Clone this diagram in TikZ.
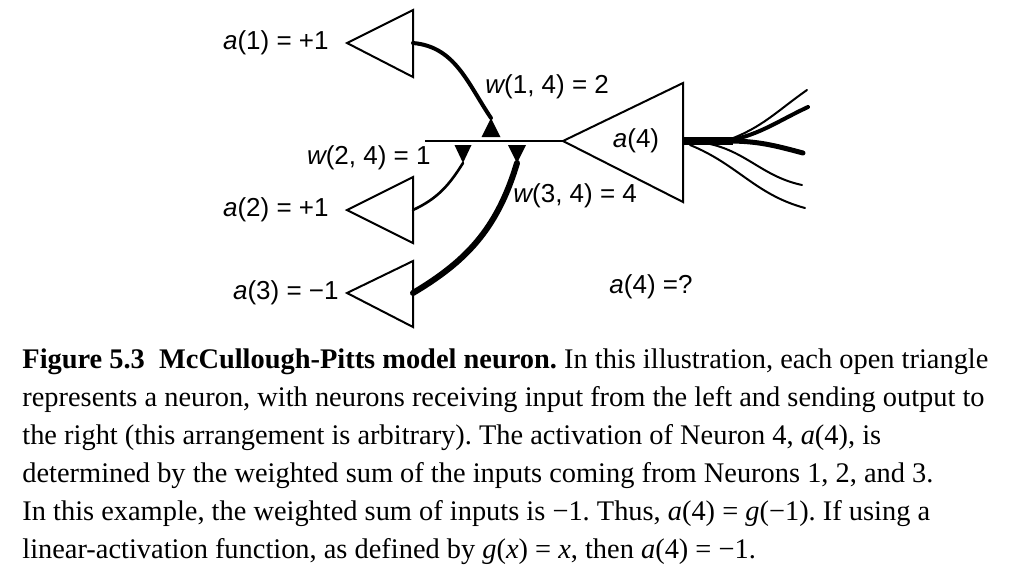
\documentclass[tikz,border=0pt]{standalone}
\usepackage{fontspec}
\setmainfont{Liberation Serif}
\newfontfamily\labelfont{Liberation Sans}
\usetikzlibrary{positioning}
\frenchspacing

\begin{document}
\begin{tikzpicture}[x=0.5pt, y=0.5pt,
        neuron/.style={draw, line width=1pt, line join=miter},
        axon/.style={line width=#1, line cap=round},
        axon/.default=1pt,
        synapse/.style={fill=black},
        lbl/.style={font=\labelfont\fontsize{13}{15}\selectfont, inner sep=0pt}]
        \useasboundingbox (0,0) rectangle (1009,-575);

        % Puntos de salida de las neuronas de entrada
        \coordinate (out1) at (413,-43);
        \coordinate (out2) at (413,-210);
        \coordinate (out3) at (413,-293);

        % Cuerpos de las neuronas de entrada (triangulos abiertos)
        \draw[neuron] (out1) ++(-66,0) coordinate (tip1) -- ++(66,33) -- ++(0,-67) -- cycle;
        \draw[neuron] (out2) ++(-66,0) coordinate (tip2) -- ++(66,33) -- ++(0,-66) -- cycle;
        \draw[neuron] (out3) ++(-66,0) coordinate (tip3) -- ++(66,32) -- ++(0,-66) -- cycle;

        % Neurona 4
        \coordinate (soma) at (563,-141);
        \coordinate (axon4) at (683,-141);
        \draw[neuron] (soma) -- (683,-83) -- (683,-202) -- cycle;
        \node at (636,-141) (act4) [lbl] {{\itshape a}(4)};

        % Dendrita
        \coordinate (dend) at (425,-141);
        \draw[line width=1pt] (dend) -- (soma);

        % Sinapsis (pequenos triangulos rellenos)
        \coordinate (syn1) at (491,-118);
        \coordinate (syn2) at (463,-163);
        \coordinate (syn3) at (517,-163);
        \fill[synapse] (syn1) -- ++(-9.5,-19) -- ++(19,0) -- cycle;
        \fill[synapse] (syn2) -- ++(-8.5,18) -- ++(17,0) -- cycle;
        \fill[synapse] (syn3) -- ++(-9,18) -- ++(18,0) -- cycle;

        % Axones hacia las sinapsis
        \draw[axon=2pt] (out1) to[out=-5,in=124] (syn1);
        \draw[axon=1.3pt] (out2) to[out=25,in=238] (syn2);
        \draw[axon=3pt] (out3) .. controls (465,-262) and (497,-230) .. (syn3);

        % Axon de salida y sus ramas
        \coordinate (b1) at (807,-90);
        \coordinate (b2) at (808,-107);
        \coordinate (b3) at (803,-153);
        \coordinate (b4) at (802,-185);
        \coordinate (b5) at (805,-208);
        \draw[line width=4pt] (axon4) -- (733,-141);
        \draw[axon=1pt] (728,-140) to[out=20,in=215] (b1);
        \draw[axon=2pt] (728,-141) to[out=12,in=205] (b2);
        \draw[axon=2.5pt] (728,-141) to[out=0,in=165] (b3);
        \draw[axon=1pt] (705,-143) to[out=-10,in=168] (b4);
        \draw[axon=1pt] (690,-145) to[out=-22,in=165] (b5);

        % Etiquetas de activacion
        \node[lbl, left=9pt of tip1] (a1) {{\itshape a}(1) = +1};
        \node[lbl, left=9pt of tip2] (a2) {{\itshape a}(2) = +1};
        \node[lbl, left=4pt of tip3] (a3) {{\itshape a}(3) = −1};

        % Etiquetas de pesos
        \node[lbl, anchor=west] at (485,-87) (w1) {{\itshape w}(1, 4) = 2};
        \node[lbl, anchor=east] at (431,-158) (w2) {{\itshape w}(2, 4) = 1};
        \node[lbl, anchor=west] at (513,-196) (w3) {{\itshape w}(3, 4) = 4};

        % Pregunta
        \node[lbl] at (651,-287) (q) {{\itshape a}(4) =?};

        % Pie de figura
        \node[anchor=north west, inner sep=0pt, align=left,
              font=\fontsize{14.2}{19}\selectfont] at (22,-348) (cap) {%
          \textbf{Figure 5.3\ \ McCullough-Pitts model neuron.} In this illustration, each open triangle\\
          represents a neuron, with neurons receiving input from the left and sending output to\\
          the right (this arrangement is arbitrary). The activation of Neuron 4, \textit{a}(4), is\\
          determined by the weighted sum of the inputs coming from Neurons 1, 2, and 3.\\
          In this example, the weighted sum of inputs is −1. Thus, \textit{a}(4) = \textit{g}(−1). If using a\\
          linear-activation function, as defined by \textit{g}(\textit{x}) = \textit{x}, then \textit{a}(4) = −1.};
    \end{tikzpicture}
\end{document}
